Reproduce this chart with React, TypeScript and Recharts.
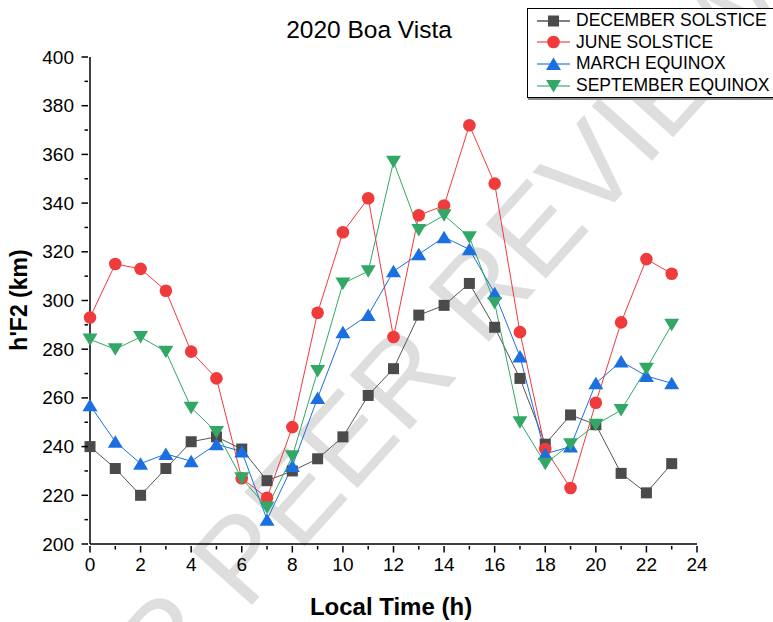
import { LineChart, Line, XAxis, YAxis } from "recharts"

// local time, hours
const HOURS = [0, 1, 2, 3, 4, 5, 6, 7, 8, 9, 10, 11, 12, 13, 14, 15, 16, 17, 18, 19, 20, 21, 22, 23]

// h'F2 (km) per season
const DECEMBER = [240, 231, 220, 231, 242, 244, 239, 226, 230, 235, 244, 261, 272, 294, 298, 307, 289, 268, 241, 253, 249, 229, 221, 233]
const JUNE = [293, 315, 313, 304, 279, 268, 227, 219, 248, 295, 328, 342, 285, 335, 339, 372, 348, 287, 239, 223, 258, 291, 317, 311]
const MARCH = [257, 242, 233, 237, 234, 241, 238, 210, 232, 260, 287, 294, 312, 319, 326, 321, 303, 277, 237, 240, 266, 275, 269, 266]
const SEPTEMBER = [284, 280, 285, 279, 256, 246, 227, 215, 236, 271, 307, 312, 357, 329, 335, 326, 299, 250, 233, 241, 249, 255, 272, 290]

const X_TICKS = [0, 1, 2, 3, 4, 5, 6, 7, 8, 9, 10, 11, 12, 13, 14, 15, 16, 17, 18, 19, 20, 21, 22, 23, 24]
const Y_TICKS = [200, 210, 220, 230, 240, 250, 260, 270, 280, 290, 300, 310, 320, 330, 340, 350, 360, 370, 380, 390, 400]

const FONT = "'Liberation Sans', Arial, sans-serif"
const GREY = "#4b4b4b"
const RED = "#f03b3d"
const BLUE = "#1b6fe0"
const GREEN = "#33a866"

const data = HOURS.map((h, i) => ({
  h,
  dec: DECEMBER[i],
  jun: JUNE[i],
  mar: MARCH[i],
  sep: SEPTEMBER[i],
}))

// marker shapes, Origin style
function Square({ cx, cy, fill }: any) {
  if (cx == null || cy == null) return null
  return <rect x={cx - 5.5} y={cy - 5.5} width={11} height={11} fill={fill} />
}
function Dot({ cx, cy, fill }: any) {
  if (cx == null || cy == null) return null
  return <circle cx={cx} cy={cy} r={6.3} fill={fill} />
}
function TriUp({ cx, cy, fill }: any) {
  if (cx == null || cy == null) return null
  return <polygon points={`${cx},${cy - 6.5} ${cx - 7.5},${cy + 6} ${cx + 7.5},${cy + 6}`} fill={fill} />
}
function TriDown({ cx, cy, fill }: any) {
  if (cx == null || cy == null) return null
  return <polygon points={`${cx},${cy + 6.5} ${cx - 7.5},${cy - 6} ${cx + 7.5},${cy - 6}`} fill={fill} />
}

const SERIES = [
  { key: "dec", name: "DECEMBER SOLSTICE", color: GREY, line: "#555", Shape: Square },
  { key: "jun", name: "JUNE SOLSTICE", color: RED, line: RED, Shape: Dot },
  { key: "mar", name: "MARCH EQUINOX", color: BLUE, line: BLUE, Shape: TriUp },
  { key: "sep", name: "SEPTEMBER EQUINOX", color: GREEN, line: GREEN, Shape: TriDown },
]

// major ticks with labels every 2 h, minor ticks in between
function XTick({ x, y, payload }: any) {
  const major = payload.value % 2 === 0
  return (
    <g>
      <line x1={x} x2={x} y1={y} y2={y + (major ? 6.5 : 3.5)} stroke="#000" strokeWidth={1.5} />
      {major && (
        <text x={x} y={y + 25} textAnchor="middle" fontSize={19} fontFamily={FONT} fill="#000">
          {payload.value}
        </text>
      )}
    </g>
  )
}

function YTick({ x, y, payload }: any) {
  const major = payload.value % 20 === 0
  return (
    <g>
      <line x1={x} x2={x - (major ? 6.5 : 3.5)} y1={y} y2={y} stroke="#000" strokeWidth={1.5} />
      {major && (
        <text x={x - 14} y={y + 6.5} textAnchor="end" fontSize={19} fontFamily={FONT} fill="#000">
          {payload.value}
        </text>
      )}
    </g>
  )
}

function LegendBox() {
  return (
    <div
      style={{
        position: "absolute",
        left: 527,
        top: 8,
        width: 252,
        height: 90,
        border: "1px solid #000",
        boxShadow: "1px 2px 0 #8a8a8a",
        background: "#fff",
        paddingTop: 1,
        boxSizing: "border-box",
      }}
    >
      {SERIES.map((s) => (
        <div key={s.key} style={{ display: "flex", alignItems: "center", height: 21.6 }}>
          <svg width={46} height={16} style={{ marginLeft: 9, flex: "none" }}>
            <line x1={0} x2={33} y1={8} y2={8} stroke={s.line} strokeWidth={1.3} opacity={s.key === "dec" ? 1 : 0.75} />
            <s.Shape cx={16.5} cy={8} fill={s.color} />
          </svg>
          <span style={{ fontFamily: FONT, fontSize: 17.5, color: "#000", whiteSpace: "nowrap", marginLeft: -7 }}>{s.name}</span>
        </div>
      ))}
    </div>
  )
}

export default function App() {
  return (
    <div style={{ position: "absolute", left: 0, top: 0, width: 773, height: 622, overflow: "hidden", background: "#fff" }}>
      {/* watermark */}
      <div style={{ position: "absolute", left: 395, top: 385, width: 0, height: 0 }}>
        <div
          style={{
            position: "absolute",
            left: 0,
            top: 0,
            transform: "translate(-50%, -50%) rotate(-48deg)",
            fontFamily: FONT,
            fontSize: 118,
            color: "#dedede",
            whiteSpace: "nowrap",
            lineHeight: 1,
          }}
        >
          FOR PEER REVIEW
        </div>
      </div>

      <div style={{ position: "absolute", left: 0, top: 0 }}>
        <LineChart width={773} height={622} data={data} margin={{ top: 57, right: 76, bottom: 48, left: 30 }}>
          <XAxis
            dataKey="h"
            type="number"
            domain={[0, 24]}
            ticks={X_TICKS}
            interval={0}
            height={30}
            tickSize={0}
            tickLine={false}
            tick={<XTick />}
            axisLine={{ stroke: "#000", strokeWidth: 1.5 }}
          />
          <YAxis
            type="number"
            domain={[200, 400]}
            ticks={Y_TICKS}
            interval={0}
            width={60}
            tickSize={0}
            tickLine={false}
            tick={<YTick />}
            axisLine={{ stroke: "#000", strokeWidth: 1.5 }}
          />
          {SERIES.map((s) => (
            <Line
              key={s.key}
              dataKey={s.key}
              name={s.name}
              type="linear"
              stroke={s.line}
              strokeWidth={1}
              dot={<s.Shape fill={s.color} />}
              activeDot={false}
              isAnimationActive={false}
            />
          ))}
        </LineChart>
      </div>

      <LegendBox />

      <div style={{ position: "absolute", left: 369, top: 30, transform: "translate(-50%, -50%)", fontFamily: FONT, fontSize: 24.5, whiteSpace: "nowrap" }}>
        2020 Boa Vista
      </div>
      <div style={{ position: "absolute", left: 391, top: 607, transform: "translate(-50%, -50%)", fontFamily: FONT, fontSize: 24, fontWeight: "bold", whiteSpace: "nowrap" }}>
        Local Time (h)
      </div>
      <div style={{ position: "absolute", left: 19, top: 300, transform: "translate(-50%, -50%) rotate(-90deg)", fontFamily: FONT, fontSize: 23, fontWeight: "bold", whiteSpace: "nowrap" }}>
        h'F2 (km)
      </div>
    </div>
  )
}
